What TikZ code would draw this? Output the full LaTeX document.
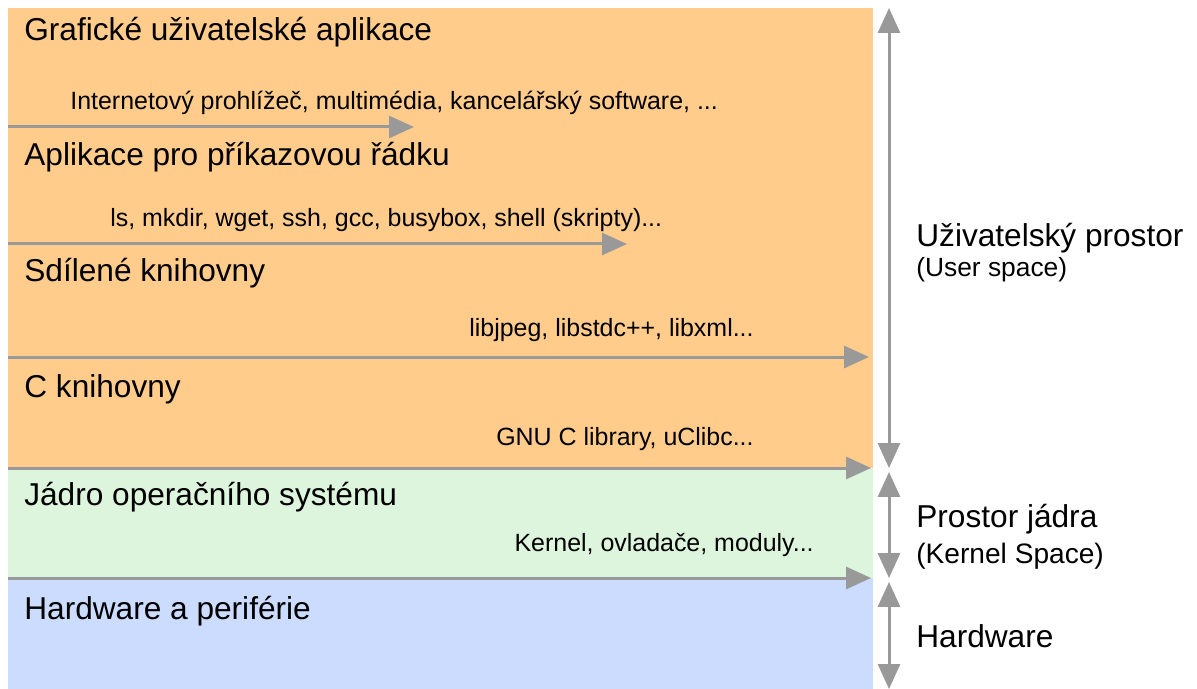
\documentclass[tikz,border=0pt]{standalone}
\usepackage{fontspec}
\setmainfont{Liberation Sans}
\usetikzlibrary{arrows.meta,positioning}
\definecolor{userfill}{RGB}{255,204,140}
\definecolor{kernfill}{RGB}{220,245,220}
\definecolor{hwfill}{RGB}{204,220,255}
\definecolor{arrowgray}{RGB}{153,153,153}

\begin{document}
\begin{tikzpicture}[x=0.02cm,y=-0.02cm]
      \tikzstyle{layer} = [anchor=north west, inner sep=0pt, outer sep=0pt, draw=none]
      \tikzstyle{title} = [anchor=west, inner sep=0pt, font=\fontsize{18}{21}\selectfont]
      \tikzstyle{sub} = [anchor=west, inner sep=0pt, font=\fontsize{14.2}{17}\selectfont]
      \tikzstyle{side} = [anchor=west, inner sep=0pt, font=\fontsize{18}{21}\selectfont]
      \tikzstyle{sep} = [-{Triangle[length=0.5cm,width=0.44cm]}, arrowgray, line width=0.06cm]
      \tikzstyle{span} = [{Triangle[length=0.5cm,width=0.44cm]}-{Triangle[length=0.5cm,width=0.44cm]}, arrowgray, line width=0.06cm]

      \useasboundingbox (0,0) rectangle (1197,689);

      % vrstvy
      \node[layer, fill=userfill, minimum width=17.3cm, minimum height=9.2cm] (user) at (8,8) {};
      \node[layer, fill=kernfill, minimum width=17.3cm, minimum height=2.2cm] (kern) at (8,468) {};
      \node[layer, fill=hwfill, minimum width=17.3cm, minimum height=2.22cm] (hw) at (8,578) {};

      % popisky vrstev
      \node[title] (gui) at (24,32) {Grafické uživatelské aplikace};
      \node[sub] (guiex) at (70,103) {Internetový prohlížeč, multimédia, kancelářský software, ...};
      \node[title] (cli) at (24,157) {Aplikace pro příkazovou řádku};
      \node[sub] (cliex) at (110,220) {ls, mkdir, wget, ssh, gcc, busybox, shell (skripty)...};
      \node[title] (shlib) at (24,273) {Sdílené knihovny};
      \node[sub, anchor=east] (shlibex) at (754,330) {libjpeg, libstdc++, libxml...};
      \node[title] (clib) at (24,389) {C knihovny};
      \node[sub, anchor=east] (clibex) at (754,439) {GNU C library, uClibc...};
      \node[title] (kernel) at (24,497) {Jádro operačního systému};
      \node[sub, anchor=east] (kernelex) at (814,545) {Kernel, ovladače, moduly...};
      \node[title] (hwlbl) at (24,611) {Hardware a periférie};

      % hranice mezi vrstvami
      \coordinate (a0) at (8,127);  \coordinate (a1) at (414,127);
      \coordinate (b0) at (8,244);  \coordinate (b1) at (627,244);
      \coordinate (c0) at (8,357);  \coordinate (c1) at (869,357);
      \coordinate (d0) at (8,468);  \coordinate (d1) at (871,468);
      \coordinate (e0) at (8,578);  \coordinate (e1) at (871,578);
      \draw[sep] (a0) -- (a1);
      \draw[sep] (b0) -- (b1);
      \draw[sep] (c0) -- (c1);
      \draw[sep] (d0) -- (d1);
      \draw[sep] (e0) -- (e1);

      % rozsahy prostoru vpravo
      \coordinate (u0) at (889,8);   \coordinate (u1) at (889,468);
      \coordinate (k0) at (889,472); \coordinate (k1) at (889,578);
      \coordinate (h0) at (889,582); \coordinate (h1) at (889,689);
      \draw[span] (u0) -- (u1);
      \draw[span] (k0) -- (k1);
      \draw[span] (h0) -- (h1);

      \node[side] (userlbl) at (916,238) {Uživatelský prostor};
      \node[sub, font=\fontsize{15}{18}\selectfont] (userlbl2) at (916,270) {(User space)};
      \node[side] (kernlbl) at (916,519) {Prostor jádra};
      \node[sub, font=\fontsize{16}{19}\selectfont] (kernlbl2) at (916,556) {(Kernel Space)};
      \node[side] (hwside) at (916,636) {Hardware};
    \end{tikzpicture}
\end{document}
